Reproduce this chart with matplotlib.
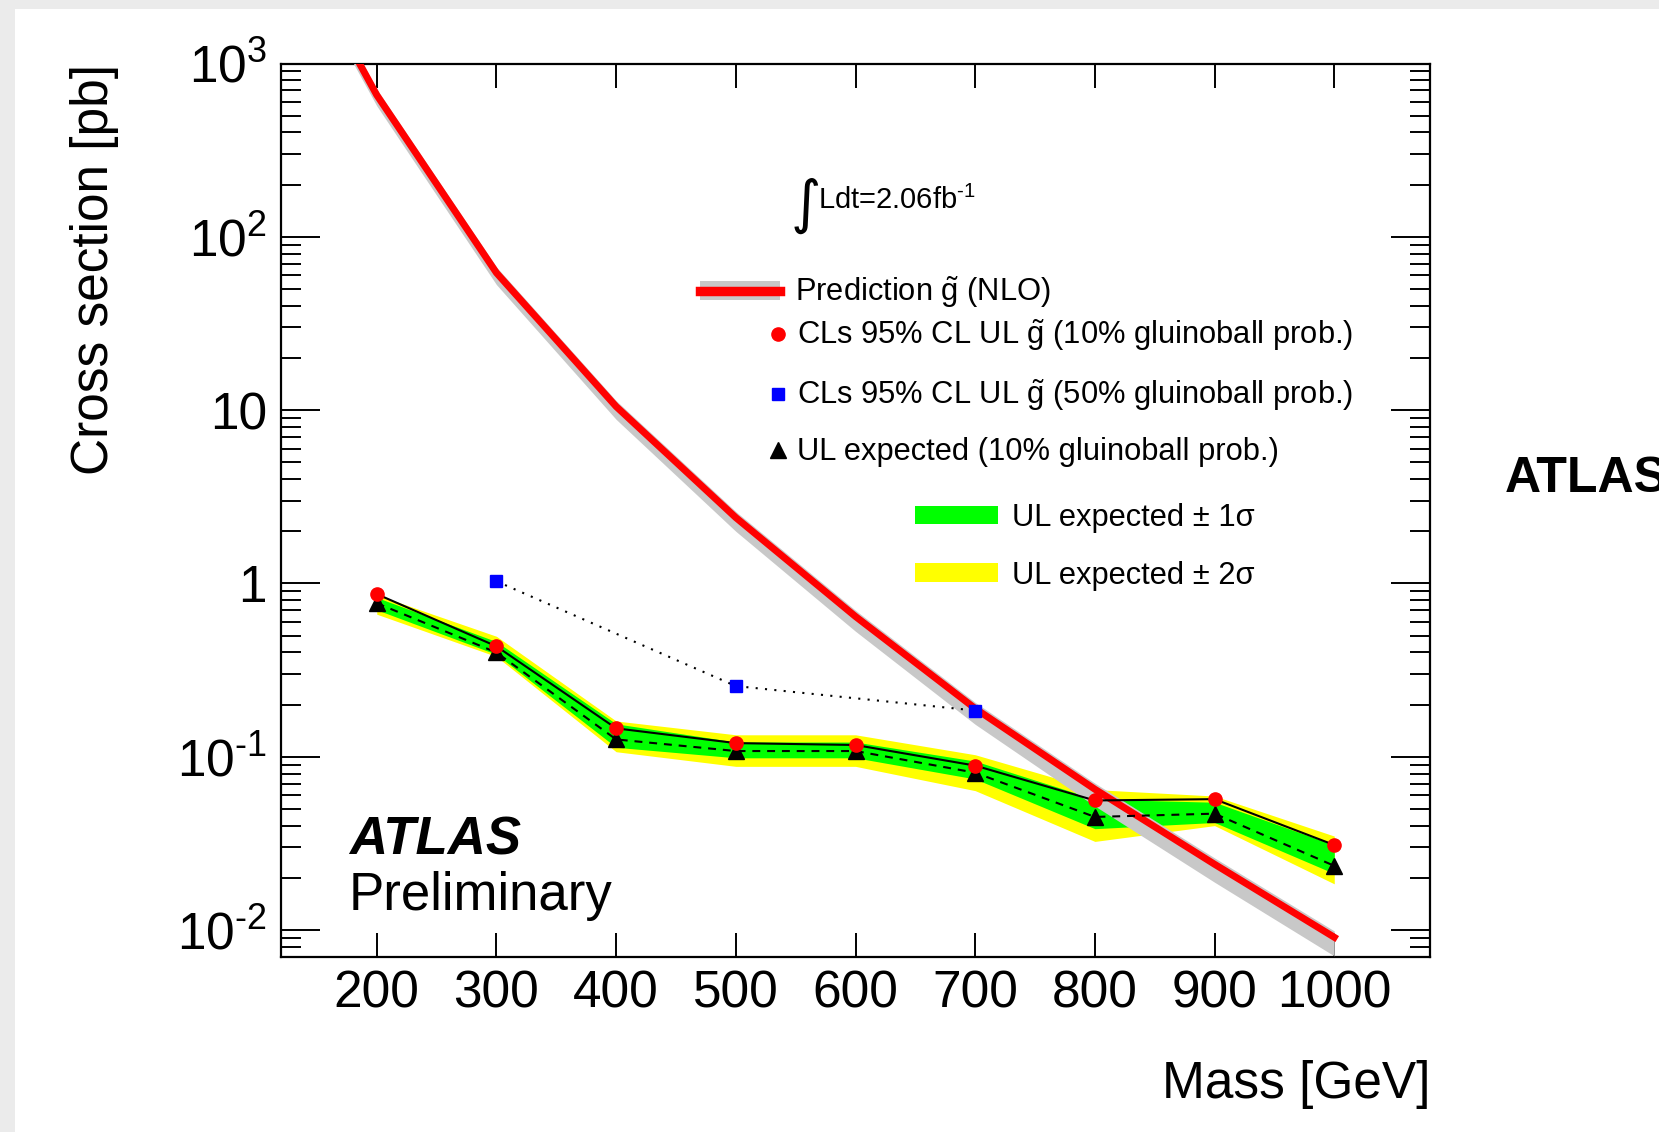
import matplotlib
matplotlib.use("Agg")
import matplotlib.pyplot as plt
import matplotlib.ticker as mtick
from matplotlib.lines import Line2D
from matplotlib.patches import Patch, Rectangle
from matplotlib.legend_handler import HandlerTuple

# ── Gluino R-hadron limits (10% / 50% gluinoball probability) ──
mass = [200, 300, 400, 500, 600, 700, 800, 900, 1000]
obs_10 = [0.869, 0.434, 0.146, 0.120, 0.117, 0.089, 0.056, 0.057, 0.031]
exp_10 = [0.770, 0.400, 0.126, 0.108, 0.108, 0.081, 0.045, 0.047, 0.0235]
exp_1s_lo = [0.705, 0.390, 0.1135, 0.0987, 0.0987, 0.0745, 0.0385, 0.0418, 0.0212]
exp_1s_hi = [0.830, 0.462, 0.155, 0.1217, 0.1217, 0.0945, 0.057, 0.0547, 0.031]
exp_2s_lo = [0.665, 0.379, 0.107, 0.0881, 0.0881, 0.0638, 0.0325, 0.0401, 0.0185]
exp_2s_hi = [0.860, 0.496, 0.161, 0.134, 0.134, 0.1028, 0.0647, 0.0594, 0.0349]

mass_50 = [300, 500, 700]
obs_50 = [1.03, 0.256, 0.185]

# NLO gluino pair-production cross section and its uncertainty band
mass_pred = [100, 200, 300, 400, 500, 600, 700, 800, 900, 1000]
xsec_pred = [12000, 658, 62.0, 10.5, 2.40, 0.645, 0.190, 0.065, 0.024, 0.0091]
xsec_pred_lo = [10200, 570, 53.0, 8.85, 2.00, 0.530, 0.154, 0.052, 0.0189, 0.0071]
xsec_pred_hi = [13000, 712, 67.0, 11.35, 2.60, 0.700, 0.206, 0.0705, 0.0261, 0.0099]

x_ticks = [200, 300, 400, 500, 600, 700, 800, 900, 1000]
y_ticks = [1e-2, 1e-1, 1, 10, 1e2, 1e3]
y_tick_labels = [r"$10^{\text{-}2}$", r"$10^{\text{-}1}$", "1", "10", "$10^{2}$", "$10^{3}$"]

# ── Style ──
plt.rcParams.update({
    "font.family": ["Liberation Sans", "DejaVu Sans"],
    "mathtext.fontset": "custom",
    "mathtext.rm": "Liberation Sans",
    "mathtext.it": "Liberation Sans:italic",
    "mathtext.bf": "Liberation Sans:bold",
    "mathtext.sf": "Liberation Sans",
})

RED, GREEN, YELLOW, BLUE, GREY = "#ff0000", "#00ff00", "#ffff00", "#0000ff", "#c8c8c8"
LEG_FS = 22.2

fig = plt.figure(figsize=(16.59, 11.32), dpi=100, facecolor="#ebebeb")
fig.patches.append(Rectangle((15 / 1659, 0), 1, 1 - 9 / 1132, transform=fig.transFigure,
                             facecolor="white", edgecolor="none", zorder=-10))
ax = fig.add_axes([0.16938, 0.15459, 0.69259, 0.78931])

# bands
ax.fill_between(mass, exp_2s_lo, exp_2s_hi, color=YELLOW, lw=0, zorder=1)
ax.fill_between(mass, exp_1s_lo, exp_1s_hi, color=GREEN, lw=0, zorder=2)
ax.fill_between(mass_pred, xsec_pred_lo, xsec_pred_hi, color=GREY, lw=0, zorder=3)
ax.plot(mass_pred, xsec_pred, color=RED, lw=5, zorder=4)

# limit curves
ax.plot(mass, exp_10, color="black", lw=1.5, ls=(0, (3.8, 3.3)), zorder=5)
ax.plot(mass, obs_10, color="black", lw=1.5, zorder=5)
ax.plot(mass_50, obs_50, color="black", lw=1.5, ls=(0, (1, 3.5)), zorder=5)
ax.plot(mass, exp_10, ls="none", marker="^", ms=11, color="black", zorder=6)
ax.plot(mass, obs_10, ls="none", marker="o", ms=9.5, color=RED, zorder=7)
ax.plot(mass_50, obs_50, ls="none", marker="s", ms=9, color=BLUE, zorder=7)

# axes
ax.set_yscale("log")
ax.set_xlim(120, 1080)
ax.set_ylim(7e-3, 1e3)
ax.xaxis.set_major_locator(mtick.FixedLocator(x_ticks))
ax.xaxis.set_minor_locator(mtick.NullLocator())
ax.yaxis.set_major_locator(mtick.FixedLocator(y_ticks))
ax.yaxis.set_major_formatter(mtick.FixedFormatter(y_tick_labels))
ax.yaxis.set_minor_locator(mtick.LogLocator(base=10, subs=range(2, 10), numticks=20))
ax.yaxis.set_minor_formatter(mtick.NullFormatter())
ax.tick_params(which="both", direction="in", top=True, right=True, width=1.4, labelsize=37)
ax.tick_params(axis="y", which="major", length=28, pad=10)
ax.tick_params(axis="y", which="minor", length=14.4)
ax.tick_params(axis="x", which="major", length=17.3, pad=9)
for sp in ax.spines.values():
    sp.set_linewidth(1.6)

ax.text(-0.1836, 1.0, "Cross section [pb]", rotation=90, ha="left", va="top",
        fontsize=37, transform=ax.transAxes)
ax.text(1.0, -0.1578, "Mass [GeV]", ha="right", va="baseline", fontsize=37,
        transform=ax.transAxes)

ax.text(0.0592, 0.1142, "ATLAS", fontsize=38, weight="bold", style="italic",
        va="baseline", transform=ax.transAxes)
ax.text(0.0592, 0.0526, "Preliminary", fontsize=38, va="baseline", transform=ax.transAxes)

ax.text(0.4439, 0.8416, "\u222b", fontsize=42, family=["DejaVu Sans"], va="center",
        ha="left", transform=ax.transAxes)
ax.text(0.4674, 0.8372, r"Ldt=2.06fb$^{\text{-}1}$", fontsize=21, va="baseline",
        transform=ax.transAxes)

# legends
gtilde = r"$\tilde{\mathrm{g}}$"
h_pred = (Patch(facecolor=GREY, edgecolor="none"), Line2D([], [], color=RED, lw=6.8))
leg1 = ax.legend([h_pred], [f"Prediction {gtilde} (NLO)"],
                 handler_map={tuple: HandlerTuple(ndivide=1, pad=0)},
                 loc="center left", bbox_to_anchor=(0.3645, 0.7441), frameon=False,
                 fontsize=LEG_FS, handlelength=2.6, handleheight=0.58,
                 handletextpad=0.5, borderpad=0, borderaxespad=0)
ax.add_artist(leg1)

h_marks = [
    Line2D([], [], ls="none", marker="o", ms=9.5, color=RED),
    Line2D([], [], ls="none", marker="s", ms=9, color=BLUE),
    Line2D([], [], ls="none", marker="^", ms=11, color="black"),
]
l_marks = [
    f"CLs 95% CL UL {gtilde} (10% gluinoball prob.)",
    f"CLs 95% CL UL {gtilde} (50% gluinoball prob.)",
    "UL expected (10% gluinoball prob.)",
]
leg2 = ax.legend(h_marks, l_marks, loc="center left", bbox_to_anchor=(0.4247, 0.6318),
                 frameon=False, fontsize=LEG_FS, handlelength=0.6, handletextpad=0.32,
                 labelspacing=0.78, borderpad=0, borderaxespad=0)
ax.add_artist(leg2)

h_bands = [Patch(facecolor=GREEN, edgecolor="none"), Patch(facecolor=YELLOW, edgecolor="none")]
l_bands = ["UL expected \u00b1 1\u03c3", "UL expected \u00b1 2\u03c3"]
ax.legend(h_bands, l_bands, loc="center left", bbox_to_anchor=(0.5518, 0.4592),
          frameon=False, fontsize=LEG_FS, handlelength=2.7, handleheight=0.55,
          handletextpad=0.45, labelspacing=0.9, borderpad=0, borderaxespad=0)

# neighbouring panel label, cut by the page edge
fig.text(0.9072, 0.5654, "ATLAS", fontsize=36, weight="bold", va="baseline")

fig.savefig("out.png", dpi=100)
